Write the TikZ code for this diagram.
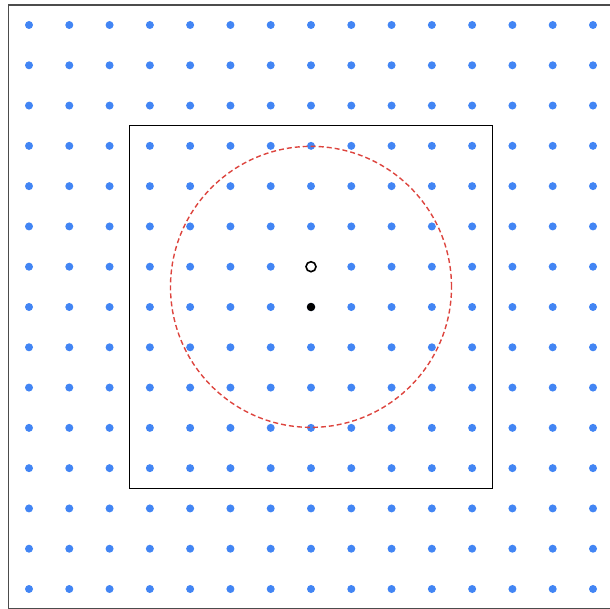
\documentclass[tikz,border=0pt]{standalone}
\usepackage{tikz}
\usetikzlibrary{positioning,calc}
\definecolor{GridBlue}{RGB}{66,133,244}
\definecolor{RangeRed}{RGB}{221,68,62}

\tikzset{
  gridpt/.style={circle, fill=GridBlue, inner sep=0pt, minimum size=8pt},
  querypt/.style={circle, draw=black, fill=white, line width=1.6pt, inner sep=0pt, minimum size=10pt},
  hitpt/.style={circle, fill=black, inner sep=0pt, minimum size=8.5pt},
  window/.style={draw=black, line width=1.2pt, inner sep=0pt},
  radius/.style={circle, draw=RangeRed, dash pattern=on 5pt off 3pt, line width=1.4pt, inner sep=0pt}
}

\begin{document}
\begin{tikzpicture}[x=1pt,y=-1pt]
    \useasboundingbox (0,0) rectangle (610,609);
    \begin{scope}
      \clip (0,0) rectangle (610,609);
      \draw[color=black!70, line width=1.3pt] (8.5,5) rectangle (611,609);
    \end{scope}
    % lattice of sample points
    \foreach \i in {0,...,14} {
      \foreach \j in {0,...,14} {
        \node[gridpt] (d-\i-\j) at ({29+40.286*\i},{25+40.286*\j}) {};
      }
    }
    \node[window, minimum width=362.5pt, minimum height=362.5pt] (box) at ($(d-7-7)$) {};
    \node[radius, minimum size=281pt] (ring) at ($(d-7-6)!0.5!(d-7-7)$) {};
    \node[querypt] (q) at (d-7-6) {};
    \node[hitpt] (p) at (d-7-7) {};
  \end{tikzpicture}
\end{document}
